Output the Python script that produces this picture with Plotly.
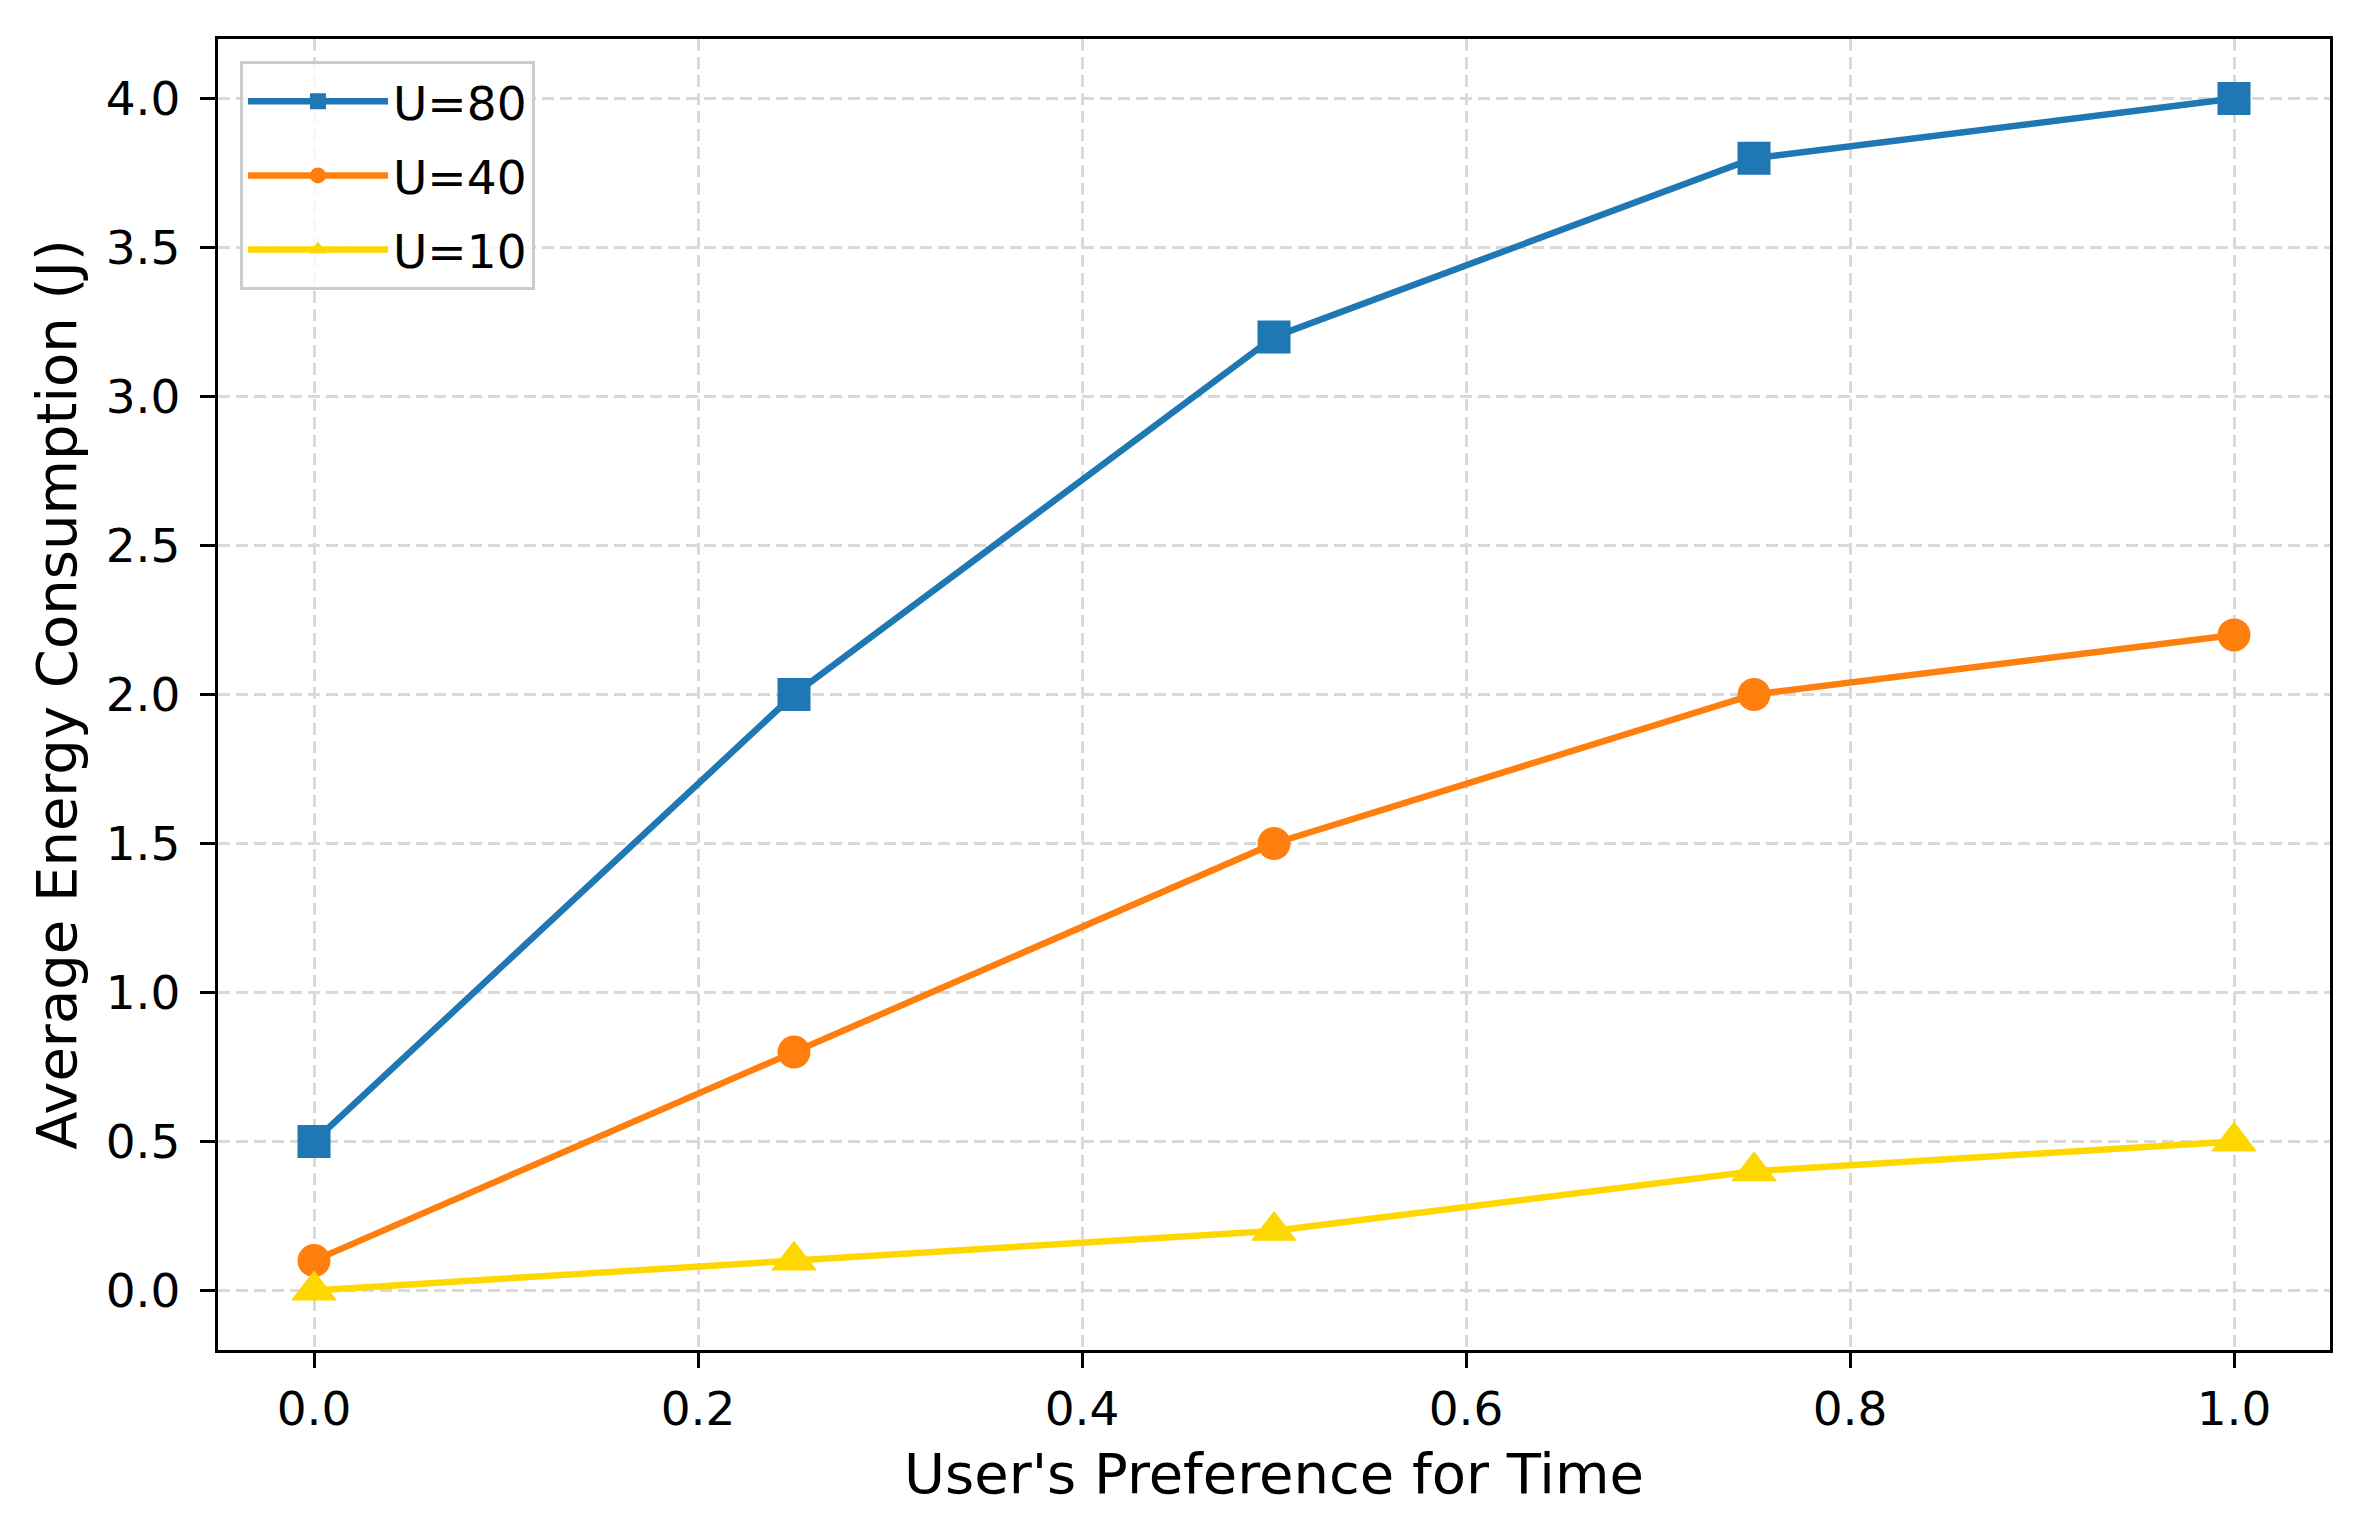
import plotly.graph_objects as go

# user's preference for time (x) and average energy consumption (J) per user count
preference = [0.0, 0.25, 0.5, 0.75, 1.0]
energy_u80 = [0.5, 2.0, 3.2, 3.8, 4.0]
energy_u40 = [0.1, 0.8, 1.5, 2.0, 2.2]
energy_u10 = [0.0, 0.1, 0.2, 0.4, 0.5]

series_names = ["U=80", "U=40", "U=10"]
x_ticks = [0.0, 0.2, 0.4, 0.6, 0.8, 1.0]
y_ticks = [0.0, 0.5, 1.0, 1.5, 2.0, 2.5, 3.0, 3.5, 4.0]

styles = [
    ("#1f77b4", "square", 33),
    ("#ff7f0e", "circle", 33),
    ("#ffd700", "triangle-up", 40),
]

fig = go.Figure()
for name, ys, (color, symbol, size) in zip(series_names,
                                           [energy_u80, energy_u40, energy_u10],
                                           styles):
    fig.add_trace(go.Scatter(
        x=preference,
        y=ys,
        name=name,
        legendgroup=name,  # separate groups so tracegroupgap spaces the rows
        mode="lines+markers",
        line=dict(color=color, width=6.5),
        marker=dict(symbol=symbol, size=size, color=color, line=dict(width=0)),
    ))

axis_common = dict(
    showline=True,
    linecolor="black",
    linewidth=3.3,
    mirror=True,
    ticks="outside",
    ticklen=15,
    tickwidth=3.3,
    tickcolor="black",
    tickfont=dict(size=47, color="black"),
    showgrid=True,
    gridcolor="#d9d9d9",
    gridwidth=3,
    griddash="12px,6px",
    zeroline=False,
    automargin=False,
)

fig.update_layout(
    width=2360,
    height=1513,
    paper_bgcolor="white",
    plot_bgcolor="white",
    font=dict(family="DejaVu Sans", color="black"),
    margin=dict(l=210, r=38, t=31, b=171, pad=0),
    xaxis=dict(
        axis_common,
        range=[-0.05, 1.05],
        tickvals=x_ticks,
        tickformat=".1f",
        title=dict(text="User's Preference for Time", font=dict(size=56), standoff=20),
    ),
    yaxis=dict(
        axis_common,
        range=[-0.2, 4.2],
        tickvals=y_ticks,
        tickformat=".1f",
        ticklabelstandoff=10,
        title=dict(text="Average Energy Consumption (J)", font=dict(size=56), standoff=12),
    ),
    legend=dict(
        x=0.0104,
        y=0.983,
        xanchor="left",
        yanchor="top",
        bgcolor="rgba(255,255,255,0.8)",
        bordercolor="#cccccc",
        borderwidth=3,
        font=dict(size=47, color="black"),
        itemwidth=140,
        tracegroupgap=10,
    ),
    showlegend=True,
)

fig.write_html("out.html")
